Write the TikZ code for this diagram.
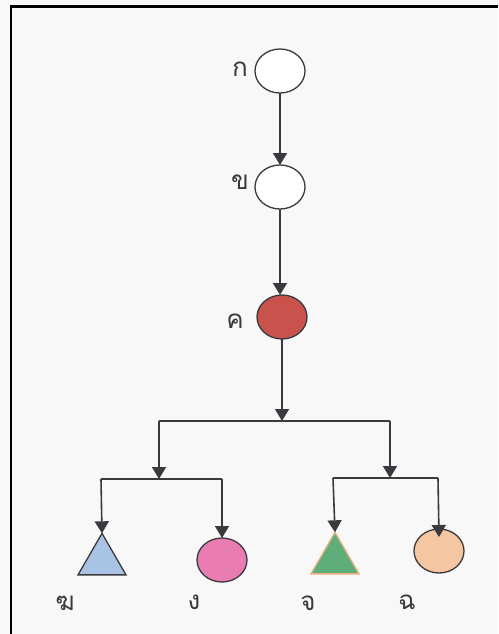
\documentclass[tikz,border=0pt]{standalone}
\usepackage{fontspec}
\newfontfamily\thaifont[Script=Thai]{Loma}
\usetikzlibrary{arrows.meta,shapes.geometric}
\definecolor{ink}{HTML}{3A3A3E}
\definecolor{paper}{HTML}{F8F8F8}
\definecolor{redfill}{HTML}{C9524C}
\definecolor{bluefill}{HTML}{A9C3E4}
\definecolor{pinkfill}{HTML}{E97DB2}
\definecolor{greenfill}{HTML}{5DAE78}
\definecolor{greenedge}{HTML}{E9B080}
\definecolor{peachfill}{HTML}{F4C6A2}
\begin{document}
\begin{tikzpicture}[x=1pt,y=-1pt,
  oval/.style={ellipse,draw=ink,line width=1.3pt,minimum width=50pt,minimum height=44pt,inner sep=0pt,outer sep=0pt},
  tri/.style={regular polygon,regular polygon sides=3,minimum size=55.4pt,inner sep=0pt,outer sep=0pt,line width=1.3pt},
  lab/.style={font=\thaifont\fontsize{26}{26}\selectfont,text=ink,inner sep=0pt},
  wire/.style={draw=ink,line width=1.6pt},
  arr/.style={wire,-{Triangle[width=14pt,length=12pt]}}]
  % page and frame
  \fill[paper] (0,0) rectangle (498,634);
  \useasboundingbox (0,0) rectangle (498,634);
  \draw[black,line width=2.6pt] (11,634) -- (11,6.5) -- (498,6.5);

  % upper chain
  \node[oval,fill=white] (k1) at (280,71) {};
  \node[oval,fill=white] (k2) at (280,187) {};
  \node[oval,fill=redfill] (k3) at (282,317) {};
  \node[lab] (l1) at (240,69) {ก};
  \node[lab] (l2) at (240,182) {ข};
  \node[lab] (l3) at (235,321) {ค};

  % leaves
  \node[tri,draw=ink,fill=bluefill] (t1) at (102,561) {};
  \node[oval,fill=pinkfill] (c1) at (222,560) {};
  \node[tri,draw=greenedge,fill=greenfill] (t2) at (335,560) {};
  \node[oval,fill=peachfill] (c2) at (439,551) {};
  \node[lab] (l4) at (65,603) {ฆ};
  \node[lab] (l5) at (194,602) {ง};
  \node[lab] (l6) at (308,603) {จ};
  \node[lab] (l7) at (407,602) {ฉ};

  % branch points
  \coordinate (j0) at (282,421);
  \coordinate (jl) at (159,421);
  \coordinate (jr) at (390,421);
  \coordinate (bl) at (159,479);
  \coordinate (bll) at (101,479);
  \coordinate (blr) at (222,479);
  \coordinate (br) at (390,478);
  \coordinate (brl) at (333,478);
  \coordinate (brr) at (438,478);

  % connectors
  \draw[arr] (k1) -- (k2);
  \draw[arr] (k2.south) -- (k2.south |- k3.north);
  \draw[arr] (k3) -- (j0);
  \draw[wire] (jl) -- (jr);
  \draw[arr] (jl) -- (bl);
  \draw[arr] (jr) -- (br);
  \draw[wire] (bll) -- (blr);
  \draw[wire] (brl) -- (brr);
  \draw[arr] (bll) -- (t1.corner 1);
  \draw[arr] (blr) -- (c1.north);
  \draw[arr] (brl) -- (t2.corner 1);
  \draw[arr] (brr) -- ([yshift=-8pt]c2.north);
\end{tikzpicture}
\end{document}
